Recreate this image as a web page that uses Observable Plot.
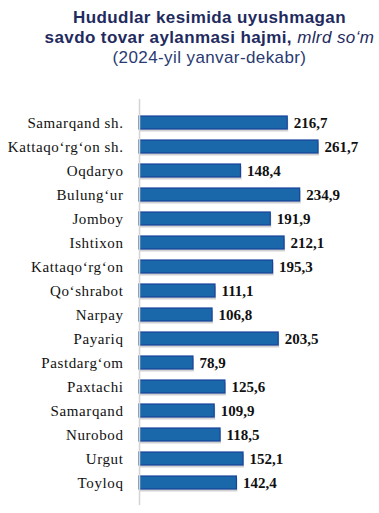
<!DOCTYPE html>
<html>
<head>
<meta charset="utf-8">
<script src="https://cdn.jsdelivr.net/npm/d3@7"></script>
<script src="https://cdn.jsdelivr.net/npm/@observablehq/plot@0.6"></script>
<style>
  html, body { margin: 0; padding: 0; background: #fff; }
  #wrap { width: 379px; height: 513px; position: relative; overflow: hidden; }
  #title { box-sizing: border-box; width: 379px; height: 80px; padding: 8px 0 0 40px; text-align: center; white-space: nowrap;
           font-family: "Liberation Sans", Arial, sans-serif; color: #1f2b5e; font-size: 17px; letter-spacing: 0.4px; line-height: 20px; }
  #title b { font-weight: bold; }
  #title i { font-weight: normal; font-style: italic; }
  #title .sub { font-weight: normal; color: #2a3a72; }
  #chart svg text { font-family: "Liberation Serif", "Times New Roman", serif; }
  #chart g[aria-description="labels"] text { letter-spacing: 0.6px; }
</style>
</head>
<body>
<div id="wrap">
  <div id="title">
    <b>Hududlar kesimida uyushmagan</b><br>
    <b>savdo tovar aylanmasi hajmi,</b> <i>mlrd so‘m</i><br>
    <span class="sub">(2024-yil yanvar-dekabr)</span>
  </div>
  <div id="chart"></div>
</div>
<script>
const regions = ["Samarqand sh.", "Kattaqo‘rg‘on sh.", "Oqdaryo", "Bulung‘ur", "Jomboy", "Ishtixon", "Kattaqo‘rg‘on", "Qo‘shrabot", "Narpay", "Payariq", "Pastdarg‘om", "Paxtachi", "Samarqand", "Nurobod", "Urgut", "Toyloq"];
const values = [216.7, 261.7, 148.4, 234.9, 191.9, 212.1, 195.3, 111.1, 106.8, 203.5, 78.9, 125.6, 109.9, 118.5, 152.1, 142.4];

const data = regions.map((r, i) => ({region: r, value: values[i]}));
const fmt = v => v.toFixed(1).replace(".", ",");
const serif = "Liberation Serif";

const chart = Plot.plot({
  width: 379,
  height: 433,
  marginTop: 19,
  marginBottom: 8,
  marginLeft: 139,
  marginRight: 61,
  style: {fontSize: "15px", color: "#111"},
  x: {domain: [0, 261.7], axis: null},
  y: {domain: regions, padding: 0.47, axis: null},
  marks: [
    Plot.barX(data, {x: "value", y: "region", fill: "#9a9a9a", fillOpacity: 0.45, dx: 1, dy: 2.5}),
    Plot.barX(data, {x: "value", y: "region", fill: "#1a68aa", stroke: "#17449a", strokeWidth: 1.2}),
    Plot.ruleX([0], {stroke: "#d4d4d4", strokeWidth: 1.5}),
    Plot.text(data, {x: "value", y: "region", text: d => fmt(d.value), textAnchor: "start", dx: 6, fontWeight: "bold", fontSize: 15, fontFamily: serif, fill: "#111"}),
    Plot.text(data, {y: "region", text: "region", frameAnchor: "left", textAnchor: "end", dx: -16, fontSize: 15, fontFamily: serif, fill: "#111", ariaDescription: "labels"})
  ]
});
document.getElementById("chart").appendChild(chart);
</script>
</body>
</html>
